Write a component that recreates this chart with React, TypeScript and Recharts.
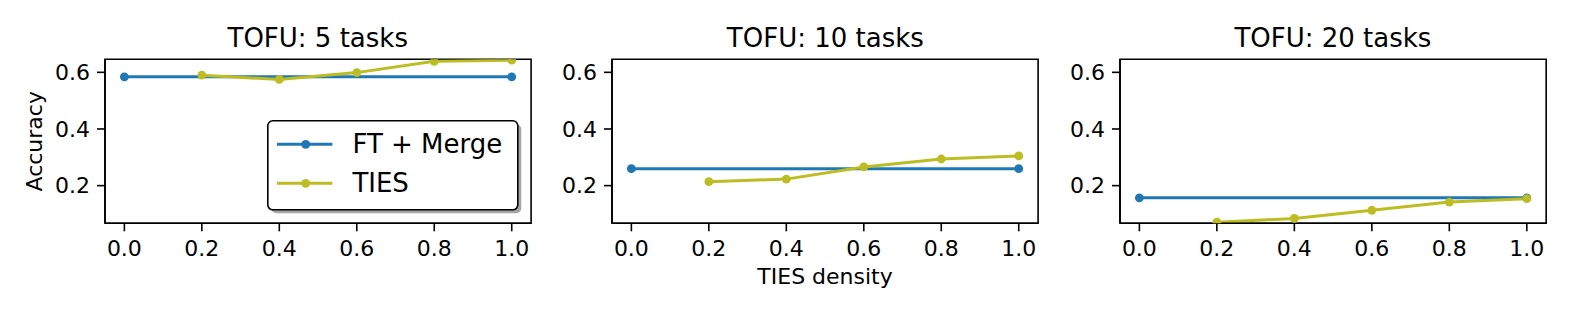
import React from 'react';
import { LineChart, Line, XAxis, YAxis, ReferenceArea, Legend } from 'recharts';

const densities = [0, 0.2, 0.4, 0.6, 0.8, 1.0];
const panelTitles = ['TOFU: 5 tasks', 'TOFU: 10 tasks', 'TOFU: 20 tasks'];
const ftMerge = [0.584, 0.26, 0.157];
const ties5 = [0.59, 0.575, 0.599, 0.639, 0.643];
const ties10 = [0.214, 0.223, 0.266, 0.294, 0.305];
const ties20 = [0.071, 0.084, 0.113, 0.142, 0.154];
const tiesSeries = [ties5, ties10, ties20];
const xTicks = [0, 0.2, 0.4, 0.6, 0.8, 1.0];
const yTicks = [0.2, 0.4, 0.6];
const seriesNames = ['FT + Merge', 'TIES'];
const seriesColors = ['#1f77b4', '#bcbd22'];
const xLabel = 'TIES density';
const yLabel = 'Accuracy';

const FONT = 'DejaVu Sans, sans-serif';
const X_DOMAIN: [number, number] = [-0.05, 1.05];
const Y_DOMAIN: [number, number] = [0.067, 0.646];
const PLOT_TOP = 59.3;
const PLOT_BOTTOM = 223.3;
const panelBounds = [
  [104.7, 530.8],
  [612.3, 1038.4],
  [1119.8, 1546],
];

function buildRows(i: number) {
  return densities.map((x, idx) => {
    const ti = idx - 1;
    return {
      x,
      ft: x === 0 || x === 1 ? ftMerge[i] : null,
      ties: ti >= 0 ? tiesSeries[i][ti] : null,
    };
  });
}

const LegendBox = (props: any) => {
  const payload = (props.payload || []) as any[];
  const items = seriesNames.map((n, k) => {
    const p = payload.find((q) => q.value === n);
    return { name: n, color: p ? p.color : seriesColors[k] };
  });
  const rows = [24.3, 63.3];
  return (
    <svg width={258} height={97} style={{ display: 'block', overflow: 'visible' }}>
      <rect x={4.3} y={4.3} width={250} height={89} rx={5} fill="#a6a6a6" />
      <rect x={0.8} y={0.8} width={250} height={89} rx={5} fill="#ffffff" stroke="#000" strokeWidth={1.6} />
      {items.map((it, k) => (
        <g key={it.name}>
          <line x1={10} x2={65.4} y1={rows[k]} y2={rows[k]} stroke={it.color} strokeWidth={3} />
          <circle cx={38.7} cy={rows[k]} r={4.4} fill={it.color} />
          <text x={85.4} y={rows[k] + 8.5} fontSize={26} fontFamily={FONT} fill="#000">
            {it.name}
          </text>
        </g>
      ))}
    </svg>
  );
};

function Panel({ i }: { i: number }) {
  const [L, R] = panelBounds[i];
  const left = L - 100;
  const width = R - L + 120;
  const rows = buildRows(i);
  const tickStyle = { fontSize: 22, fontFamily: FONT, fill: '#000' };
  return (
    <div style={{ position: 'absolute', left, top: 0, width, height: 316 }}>
      <LineChart
        width={width}
        height={316}
        data={rows}
        margin={{ top: PLOT_TOP, left: 40, right: 20, bottom: 316 - PLOT_BOTTOM - 40 }}
      >
        <XAxis
          dataKey="x"
          type="number"
          domain={X_DOMAIN}
          allowDataOverflow
          ticks={xTicks}
          tickFormatter={(v: number) => v.toFixed(1)}
          tick={tickStyle}
          tickSize={8}
          tickMargin={9}
          height={40}
          stroke="#000"
          strokeWidth={1.6}
          label={
            i === 1
              ? {
                  content: (p: any) => {
                    const vb = p.viewBox || {};
                    return (
                      <text
                        x={vb.x + vb.width / 2}
                        y={284}
                        textAnchor="middle"
                        fontSize={22}
                        fontFamily={FONT}
                        fill="#000"
                      >
                        {xLabel}
                      </text>
                    );
                  },
                }
              : undefined
          }
        />
        <YAxis
          type="number"
          domain={Y_DOMAIN}
          allowDataOverflow
          ticks={yTicks}
          tickFormatter={(v: number) => v.toFixed(1)}
          tick={tickStyle}
          tickSize={8}
          tickMargin={7}
          width={60}
          stroke="#000"
          strokeWidth={1.6}
          label={
            i === 0
              ? {
                  content: () => (
                    <text
                      x={34.6 - left}
                      y={(PLOT_TOP + PLOT_BOTTOM) / 2}
                      transform={`rotate(-90 ${34.6 - left} ${(PLOT_TOP + PLOT_BOTTOM) / 2})`}
                      textAnchor="middle"
                      dominantBaseline="central"
                      fontSize={22}
                      fontFamily={FONT}
                      fill="#000"
                    >
                      {yLabel}
                    </text>
                  ),
                }
              : undefined
          }
        />
        <ReferenceArea
          x1={X_DOMAIN[0]}
          x2={X_DOMAIN[1]}
          y1={Y_DOMAIN[0]}
          y2={Y_DOMAIN[1]}
          fill="none"
          fillOpacity={0}
          stroke="#000"
          strokeWidth={1.6}
          ifOverflow="visible"
        />
        <Line
          dataKey="ft"
          name={seriesNames[0]}
          stroke={seriesColors[0]}
          strokeWidth={3}
          connectNulls
          dot={{ r: 4.4, fill: seriesColors[0], stroke: 'none' }}
          activeDot={false}
          isAnimationActive={false}
        />
        <Line
          dataKey="ties"
          name={seriesNames[1]}
          stroke={seriesColors[1]}
          strokeWidth={3}
          connectNulls
          dot={{ r: 4.4, fill: seriesColors[1], stroke: 'none' }}
          activeDot={false}
          isAnimationActive={false}
        />
        {i === 0 && (
          <Legend
            layout="horizontal"
            verticalAlign="middle"
            align="center"
            content={<LegendBox />}
            wrapperStyle={{ left: 267.3 - left, top: 120, width: 258, height: 97 }}
          />
        )}
      </LineChart>
      <div
        style={{
          position: 'absolute',
          left: 0,
          width: '100%',
          paddingLeft: 100,
          paddingRight: 20,
          boxSizing: 'border-box',
          top: 24.5,
          textAlign: 'center',
          fontSize: 26,
          lineHeight: '26px',
          fontFamily: FONT,
          color: '#000',
          whiteSpace: 'nowrap',
        }}
      >
        {panelTitles[i]}
      </div>
    </div>
  );
}

export default function App() {
  return (
    <div
      style={{
        position: 'absolute',
        left: 0,
        top: 0,
        width: 1578,
        height: 316,
        background: '#fff',
        overflow: 'hidden',
      }}
    >
      {[0, 1, 2].map((i) => (
        <Panel key={i} i={i} />
      ))}
    </div>
  );
}
